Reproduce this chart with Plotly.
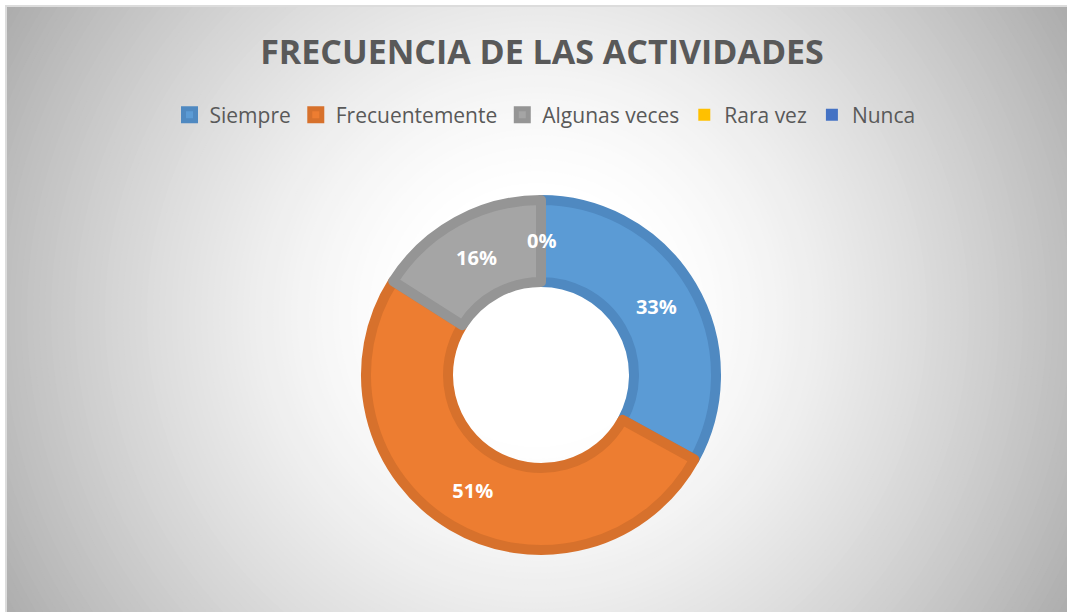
import plotly.graph_objects as go

# datos del gráfico
categorias = ["Siempre", "Frecuentemente", "Algunas veces", "Rara vez", "Nunca"]
porcentajes = [33, 51, 16, 0, 0]
colores = ["#5B9BD5", "#ED7D31", "#A5A5A5", "#FFC000", "#4472C4"]
bordes = ["#4F89C1", "#D7712C", "#959595", "#E6AD00", "#3D66B0"]
titulo = "FRECUENCIA DE LAS ACTIVIDADES"

W, H = 1067, 612

# geometry of the donut (pixels)
cx, cy = 541, 375
r_pie = 175
line_w = 10
hole = 93 / r_pie

fig = go.Figure()

fig.add_trace(go.Pie(
    labels=categorias,
    values=porcentajes,
    sort=False,
    direction="clockwise",
    rotation=0,
    hole=hole,
    # no stroke on empty slices, otherwise they show up as a line
    marker=dict(colors=colores,
                line=dict(color=bordes,
                          width=[line_w if v > 0 else 0 for v in porcentajes])),
    texttemplate="<b>%{percent:.0%}</b>",
    textposition="inside",
    insidetextorientation="horizontal",
    textfont=dict(family="Open Sans", size=20, color="white"),
    domain=dict(x=[(cx - r_pie) / W, (cx + r_pie) / W],
                y=[1 - (cy + r_pie) / H, 1 - (cy - r_pie) / H]),
    hoverinfo="label+percent",
))

# plotly drops the text of 0-valued slices, Excel puts it at the start angle
r_mid = (88 + 180) / 2
ceros = [v for v in porcentajes if v == 0]
annotations = []
if ceros:
    annotations.append(dict(
        text=f"<b>{ceros[0]}%</b>", showarrow=False,
        xref="paper", yref="paper",
        x=cx / W, y=1 - (cy - r_mid) / H,
        xanchor="center", yanchor="middle",
        font=dict(family="Open Sans", size=20, color="white"),
    ))

# radial gradient background (white centre -> grey corners)
gx, gy = 537, 315
shapes = []
r = 660
while r >= 110:
    t = max(0.0, min(1.0, (r - 120) / 500))
    g = int(round(255 - 84 * t ** 1.4))
    g = max(g, 160)
    shapes.append(dict(
        type="circle", layer="below",
        xref="paper", yref="paper",
        xsizemode="pixel", ysizemode="pixel",
        xanchor=gx / W, yanchor=1 - gy / H,
        x0=-r, x1=r, y0=-r, y1=r,
        fillcolor=f"rgb({g},{g},{g})", line=dict(width=0),
    ))
    r -= 6

# white frame at top/left with thin grey outline
shapes += [
    dict(type="rect", layer="below", xref="paper", yref="paper",
         xsizemode="pixel", xanchor=0, x0=0, x1=5, y0=0, y1=1,
         fillcolor="white", line=dict(width=0)),
    dict(type="rect", layer="below", xref="paper", yref="paper",
         ysizemode="pixel", yanchor=1, y0=-5, y1=0, x0=0, x1=1,
         fillcolor="white", line=dict(width=0)),
    dict(type="rect", layer="below", xref="paper", yref="paper",
         xsizemode="pixel", xanchor=0, x0=5, x1=7, y0=0, y1=1 - 5 / H,
         fillcolor="#DCDCDC", line=dict(width=0)),
    dict(type="rect", layer="below", xref="paper", yref="paper",
         ysizemode="pixel", yanchor=1, y0=-7, y1=-5, x0=5 / W, x1=1,
         fillcolor="#DCDCDC", line=dict(width=0)),
]

fig.update_layout(
    width=W, height=H,
    margin=dict(l=0, r=0, t=0, b=0),
    paper_bgcolor="#C4C4C4",
    plot_bgcolor="#C4C4C4",
    shapes=shapes,
    annotations=annotations,
    title=dict(text=f"<b>{titulo}</b>", x=542 / W, xanchor="center",
               y=1 - 52 / H, yanchor="middle",
               font=dict(family="Open Sans", size=34, color="#595959")),
    legend=dict(orientation="h", x=545 / W, xanchor="center",
                y=1 - 115 / H, yanchor="middle",
                bgcolor="rgba(0,0,0,0)",
                font=dict(family="Open Sans", size=21, color="#595959")),
    font=dict(family="Open Sans"),
)

# body margin off so the figure sits at the page's top-left corner
fig.write_html("out.html",
               config={"displayModeBar": False},
               post_script="document.body.style.margin='0';"
                           "document.body.style.overflow='hidden';"
                           "document.documentElement.style.overflow='hidden';")
